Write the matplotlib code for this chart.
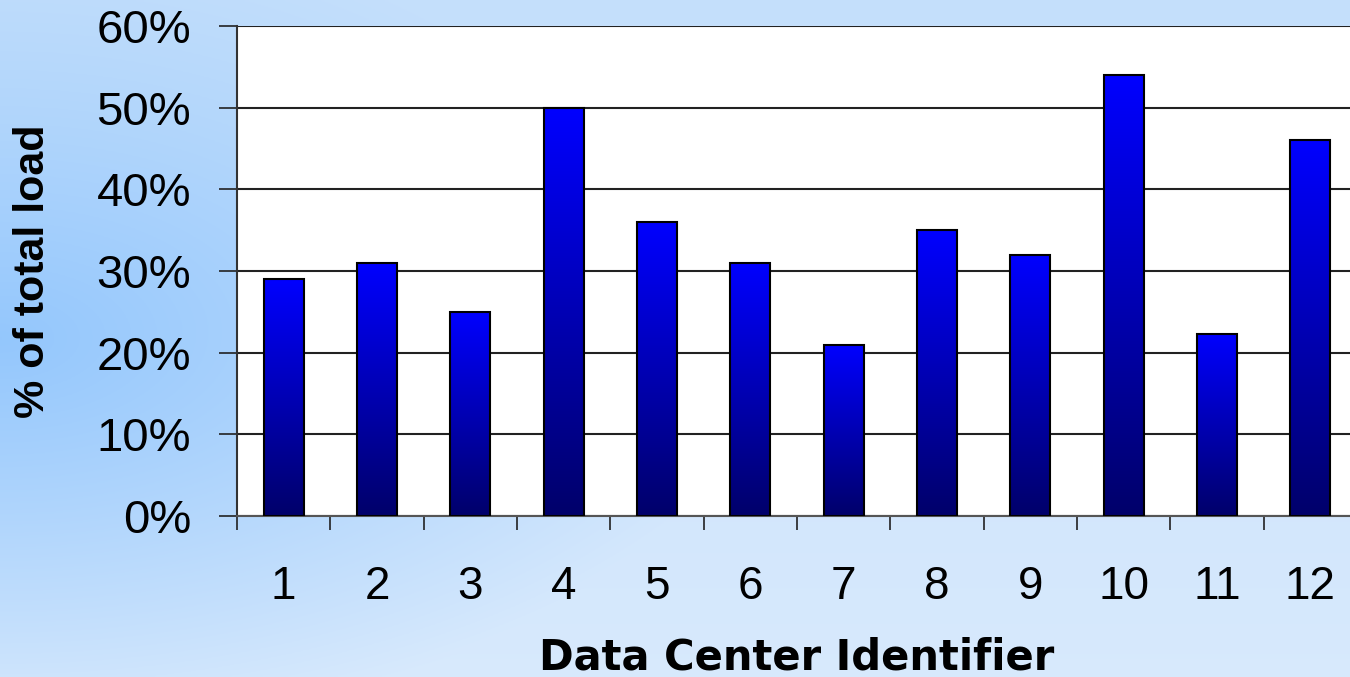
import numpy as np
import matplotlib
matplotlib.use('Agg')
import matplotlib.pyplot as plt
from matplotlib.colors import LinearSegmentedColormap
from matplotlib.ticker import FuncFormatter, FixedLocator

centers = ['1', '2', '3', '4', '5', '6', '7', '8', '9', '10', '11', '12']
load = [0.29, 0.31, 0.25, 0.50, 0.36, 0.31, 0.21, 0.35, 0.32, 0.54, 0.223, 0.46]
yticks = [0.0, 0.1, 0.2, 0.3, 0.4, 0.5, 0.6]

plt.rcParams['font.family'] = ['Liberation Sans', 'DejaVu Sans']

fig = plt.figure(figsize=(13.5, 6.77), dpi=100)

# background: light blue with a darker glow on the left
bg = fig.add_axes([0, 0, 1, 1], zorder=-10)
bg.set_axis_off()
yy, xx = np.mgrid[0:1:300j, 0:1:600j]
d = np.sqrt((xx * 1.8) ** 2 + ((yy - 0.5) * 1.7) ** 2)
glow = np.clip(1 - d, 0, 1)
top = np.array([0.77, 0.875, 0.985])
bot = np.array([0.845, 0.915, 0.99])
dark = np.array([0.58, 0.78, 0.99])
t = yy[..., None]
img = top * (1 - t) + bot * t
img = img * (1 - glow[..., None]) + dark * glow[..., None]
bg.imshow(img, extent=[0, 1, 0, 1], origin='upper', aspect='auto')
bg.set_xlim(0, 1)
bg.set_ylim(0, 1)

ax = fig.add_axes([237 / 1350, 1 - 516 / 677, 1120 / 1350, 490 / 677])
ax.set_facecolor('white')
x = np.arange(len(centers))
bars = ax.bar(x, load, width=0.43, color='none', edgecolor='black', linewidth=1.5, zorder=3)

# vertical blue gradient inside each bar
cmap = LinearSegmentedColormap.from_list('bars', ['#00006a', '#0000ff'])
grad = np.linspace(0, 1, 256).reshape(-1, 1)
for b in bars:
    x0, y0 = b.get_x(), b.get_y()
    w, h = b.get_width(), b.get_height()
    im = ax.imshow(grad, cmap=cmap, origin='lower', aspect='auto',
                   extent=[x0, x0 + w, y0, y0 + h], zorder=2)
    im.set_clip_path(b)

ax.set_xlim(-0.5, len(centers) - 0.5)
ax.set_ylim(0, 0.6)
ax.set_yticks(yticks)
ax.yaxis.set_major_formatter(FuncFormatter(lambda v, p: '%d%%' % round(v * 100)))
ax.yaxis.grid(True, color='#222222', linewidth=1.5, zorder=1)
ax.set_axisbelow(True)

ax.set_xticks(x)
ax.set_xticklabels(centers)
ax.xaxis.set_minor_locator(FixedLocator(np.arange(-0.5, len(centers) + 0.5, 1)))
ax.tick_params(axis='x', which='major', length=0, pad=35, labelsize=33)
ax.tick_params(axis='x', which='minor', length=10, width=1.2, direction='out', color='#222222')
ax.tick_params(axis='y', which='major', length=13, width=1.2, direction='out', pad=20,
               labelsize=34, color='#222222')

for s in ['top', 'right']:
    ax.spines[s].set_visible(False)
ax.spines['left'].set_color('#333333')
ax.spines['left'].set_linewidth(1.5)
ax.spines['bottom'].set_color('#555555')
ax.spines['bottom'].set_linewidth(1.5)

ax.set_xlabel('Data Center Identifier', family='DejaVu Sans', fontsize=30,
              fontweight='bold', labelpad=20)
ax.set_ylabel('% of total load', fontsize=31, fontweight='bold', labelpad=31)

fig.savefig('out.png', dpi=100)
